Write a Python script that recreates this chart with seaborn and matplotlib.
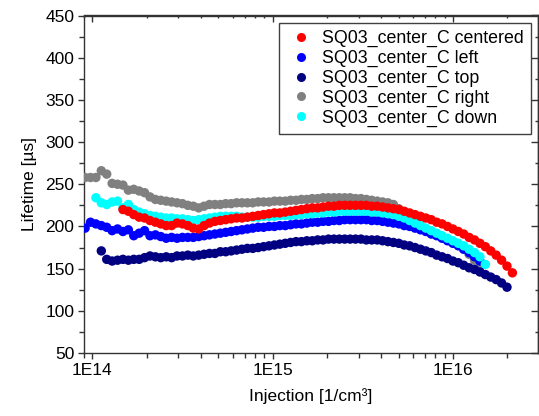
import numpy as np
import pandas as pd
import matplotlib
matplotlib.use("Agg")
import matplotlib.pyplot as plt
from matplotlib.lines import Line2D
from matplotlib.ticker import MultipleLocator, LogLocator, NullFormatter, FixedLocator, FixedFormatter
import seaborn as sns

# ---------------- data ----------------
# common grid of log10(injection / cm^-3)
inj_exp = [13.96, 13.99, 14.02, 14.05, 14.08, 14.11, 14.14, 14.17, 14.20, 14.23,
           14.26, 14.29, 14.32, 14.35, 14.38, 14.41, 14.44, 14.47, 14.50, 14.53,
           14.56, 14.59, 14.62, 14.65, 14.68, 14.71, 14.74, 14.77, 14.80, 14.83,
           14.86, 14.89, 14.92, 14.95, 14.98, 15.01, 15.04, 15.07, 15.10, 15.13,
           15.16, 15.19, 15.22, 15.25, 15.28, 15.31, 15.34, 15.37, 15.40, 15.43,
           15.46, 15.49, 15.52, 15.55, 15.58, 15.61, 15.64, 15.67, 15.70, 15.73,
           15.76, 15.79, 15.82, 15.85, 15.88, 15.91, 15.94, 15.97, 16.00, 16.03,
           16.06, 16.09, 16.12, 16.15, 16.18, 16.21, 16.24, 16.27, 16.30, 16.33]

labels = ["SQ03_center_C centered", "SQ03_center_C left", "SQ03_center_C top",
          "SQ03_center_C right", "SQ03_center_C down"]
colors = ["#ff0000", "#0000ff", "#000080", "#808080", "#00ffff"]

# first grid index of each series
start_centered = 7
start_left = 0
start_top = 3
start_right = 0
start_down = 2

tau_centered = [220, 218, 214, 211, 210, 207, 205, 203, 201, 201,
                204, 203, 201, 198, 197, 201, 204, 206, 207, 208,
                209, 210, 210, 211, 212, 213, 214, 215, 216, 216,
                217, 218, 219, 220, 221, 222, 222, 223, 224, 224,
                225, 225, 225, 225, 225, 225, 224, 224, 223, 222,
                221, 220, 218, 216, 214, 212, 210, 208, 205, 203,
                200, 197, 194, 191, 187, 184, 180, 176, 171, 166,
                160, 153, 145]

tau_left = [198, 205, 203, 201, 199, 195, 197, 194, 196, 189,
            192, 195, 189, 190, 188, 186, 187, 186, 187, 187,
            187, 188, 189, 190, 191, 192, 193, 194, 195, 196,
            197, 198, 199, 199, 200, 200, 201, 201, 202, 203,
            203, 204, 205, 205, 206, 206, 207, 207, 208, 208,
            208, 208, 208, 207, 207, 206, 205, 204, 203, 201,
            200, 198, 196, 194, 191, 189, 186, 183, 180, 177,
            173, 169, 164, 159]

tau_top = [171, 161, 159, 160, 161, 160, 161, 161, 163, 165,
           164, 163, 164, 163, 165, 165, 166, 165, 166, 167,
           168, 168, 170, 170, 171, 172, 173, 174, 174, 175,
           176, 177, 178, 179, 180, 181, 182, 182, 183, 183,
           184, 184, 185, 185, 185, 185, 185, 185, 185, 184,
           184, 184, 183, 182, 181, 180, 178, 177, 175, 173,
           171, 169, 166, 164, 162, 159, 157, 154, 151, 149,
           146, 143, 140, 137, 133, 128]

tau_right = [258, 258, 258, 266, 262, 251, 250, 249, 243, 244,
             242, 240, 235, 232, 231, 230, 229, 228, 227, 225,
             224, 222, 224, 226, 226, 226, 227, 227, 228, 228,
             228, 228, 229, 229, 229, 230, 230, 230, 231, 231,
             232, 232, 233, 233, 234, 234, 234, 234, 234, 234,
             233, 233, 232, 231, 230, 229, 228, 226, 221, 216,
             211, 206, 201, 197, 194, 191, 188, 185, 182, 178,
             173, 167, 160, 152]

tau_down = [234, 228, 226, 229, 230, 222, 226, 220, 217, 215,
            213, 212, 211, 210, 210, 209, 209, 208, 207, 208,
            209, 210, 211, 212, 212, 212, 212, 211, 211, 211,
            211, 212, 212, 212, 213, 213, 213, 214, 214, 215,
            215, 216, 216, 217, 217, 218, 218, 218, 218, 218,
            218, 217, 217, 216, 215, 214, 212, 210, 207, 204,
            201, 198, 195, 192, 189, 186, 183, 180, 177, 173,
            169, 164, 155]

# drawing order (bottom -> top)
draw = [
    (labels[3], start_right, tau_right),
    (labels[1], start_left, tau_left),
    (labels[4], start_down, tau_down),
    (labels[2], start_top, tau_top),
    (labels[0], start_centered, tau_centered),
]

rows = []
for name, st, vals in draw:
    for k, v in enumerate(vals):
        rows.append({"series": name, "inj": 10 ** inj_exp[st + k], "tau": v})
df = pd.DataFrame(rows)

# ---------------- style ----------------
sns.set_style("ticks")
plt.rcParams["font.family"] = ["Liberation Sans", "DejaVu Sans"]
plt.rcParams["text.color"] = "black"
plt.rcParams["axes.labelcolor"] = "black"
plt.rcParams["xtick.color"] = "black"
plt.rcParams["ytick.color"] = "black"

W, H = 539, 416
fig = plt.figure(figsize=(W / 100, H / 100), dpi=100)
L, R, T, B = 84, 538, 15.5, 353
ax = fig.add_axes([L / W, 1 - B / H, (R - L) / W, (B - T) / H])

sns.scatterplot(data=df, x="inj", y="tau", hue="series", hue_order=labels,
                palette=dict(zip(labels, colors)), s=46, linewidth=0,
                ax=ax, legend=False, zorder=3)

ax.set_xscale("log")
ax.set_xlim(10 ** 13.954, 10 ** 16.472)
ax.set_ylim(50, 450)

xt = [1e14, 1e15, 1e16]
xt_labels = ["1E14", "1E15", "1E16"]
ax.xaxis.set_major_locator(FixedLocator(xt))
ax.xaxis.set_major_formatter(FixedFormatter(xt_labels))
ax.xaxis.set_minor_locator(LogLocator(base=10, subs=np.arange(2, 10)))
ax.xaxis.set_minor_formatter(NullFormatter())
ax.yaxis.set_major_locator(MultipleLocator(50))
ax.yaxis.set_minor_locator(MultipleLocator(25))

fs = 12.5
tc = "#333333"
ax.tick_params(axis="both", which="major", direction="out", length=4.5, width=1.0,
               labelsize=fs, color=tc, labelcolor="black", pad=3)
ax.tick_params(axis="both", which="minor", direction="out", length=3.5, width=1.0,
               color=tc)
ax.tick_params(axis="y", which="major", pad=2.5)

for sp in ax.spines.values():
    sp.set_linewidth(1.0)
    sp.set_color(tc)

# mirrored inward ticks on top and right
secx = ax.secondary_xaxis("top")
secx.xaxis.set_major_locator(FixedLocator(xt))
secx.xaxis.set_minor_locator(LogLocator(base=10, subs=np.arange(2, 10)))
secx.xaxis.set_major_formatter(NullFormatter())
secx.xaxis.set_minor_formatter(NullFormatter())
secx.tick_params(which="major", direction="in", length=5, width=1.0, color=tc)
secx.tick_params(which="minor", direction="in", length=2.5, width=1.0, color=tc)
secx.spines["top"].set_linewidth(1.0)
secx.spines["top"].set_color(tc)

secy = ax.secondary_yaxis("right")
secy.yaxis.set_major_locator(MultipleLocator(50))
secy.yaxis.set_minor_locator(MultipleLocator(25))
secy.yaxis.set_major_formatter(NullFormatter())
secy.tick_params(which="major", direction="in", length=5, width=1.0, color=tc)
secy.tick_params(which="minor", direction="in", length=2.5, width=1.0, color=tc)
secy.spines["right"].set_linewidth(1.0)
secy.spines["right"].set_color(tc)

ax.set_xlabel("Injection [1/cm³]", fontsize=fs, labelpad=7, color="black")
ax.set_ylabel("Lifetime [µs]", fontsize=fs, labelpad=6, color="black")

handles = [Line2D([], [], linestyle="", marker="o", markersize=6.5,
                  markerfacecolor=c, markeredgewidth=0) for c in colors]
leg = ax.legend(handles, labels, loc="upper right",
                bbox_to_anchor=((531 - L) / (R - L), (B - 23) / (B - T)),
                borderaxespad=0, fontsize=12.8, frameon=True, fancybox=False,
                framealpha=1, edgecolor="#404040", borderpad=0.4,
                handlelength=1.6, handletextpad=0.4, labelspacing=0.15)
leg.get_frame().set_linewidth(1.0)
leg.set_zorder(5)
for t in leg.get_texts():
    t.set_color("black")

fig.savefig("out.png", dpi=100)
